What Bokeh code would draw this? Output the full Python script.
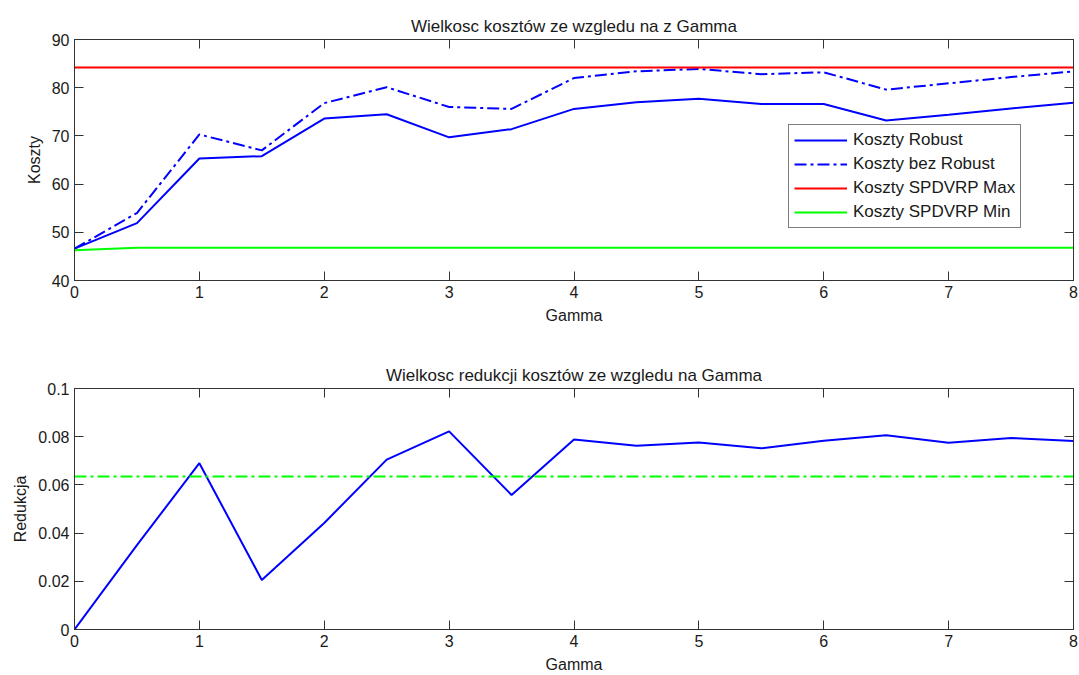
from bokeh.plotting import figure
from bokeh.layouts import column
from bokeh.models import (Range1d, FixedTicker, LinearAxis, Legend, LegendItem,
                          CustomJSTickFormatter)
from bokeh.embed import file_html
from bokeh.resources import INLINE

# ---------------- data ----------------
gamma = [0, 0.5, 1, 1.5, 2, 2.5, 3, 3.5, 4, 4.5, 5, 5.5, 6, 6.5, 7, 7.5, 8]
koszty_robust = [46.6, 51.9, 65.3, 65.8, 73.6, 74.5, 69.7, 71.4, 75.6, 77.0, 77.7,
                 76.6, 76.6, 73.2, 74.4, 75.7, 76.9]
koszty_bez_robust = [46.6, 54.0, 70.3, 67.0, 76.8, 80.1, 76.0, 75.6, 82.0, 83.4, 83.9,
                     82.8, 83.2, 79.6, 80.9, 82.2, 83.4]
koszty_max = [84.2] * len(gamma)
koszty_min = [46.3] + [46.8] * (len(gamma) - 1)
redukcja = [0.0, 0.035, 0.069, 0.0205, 0.0442, 0.0705, 0.0822, 0.0558, 0.0788, 0.0762,
            0.0776, 0.0752, 0.0783, 0.0806, 0.0775, 0.0795, 0.0782]
redukcja_mean = [0.0635] * len(gamma)

x_ticks = [0, 1, 2, 3, 4, 5, 6, 7, 8]
y1_ticks = [40, 50, 60, 70, 80, 90]
y2_ticks = [0, 0.02, 0.04, 0.06, 0.08, 0.1]

title1 = "Wielkosc kosztów ze wzgledu na z Gamma"
title2 = "Wielkosc redukcji kosztów ze wzgledu na Gamma"

FONT = "Liberation Sans"
AX = "#333333"
TXT = "#1a1a1a"
DASHDOT = "12 4 3 4"


def style_axis(ax, show_labels=True):
    ax.axis_line_color = AX
    ax.major_tick_line_color = AX
    ax.major_tick_in = 9
    ax.major_tick_out = 0
    ax.minor_tick_line_color = None
    ax.major_label_text_font = FONT
    ax.major_label_text_color = TXT
    ax.axis_label_text_font = FONT
    ax.axis_label_text_color = TXT
    ax.axis_label_text_font_style = "normal"
    ax.axis_label_text_font_size = "16px"
    if show_labels:
        ax.major_label_text_font_size = "16px"
        ax.major_label_standoff = 5
    else:
        ax.major_label_text_font_size = "1px"
        ax.major_label_text_color = None
        ax.major_label_standoff = 0


def make_fig(height, top, bottom, yr, yticks, title, ylabel, fmt=None):
    p = figure(width=1079, height=height, output_backend="svg", toolbar_location=None,
               x_range=Range1d(0, 8), y_range=yr,
               min_border_left=74, min_border_right=6,
               min_border_top=top, min_border_bottom=bottom)
    p.background_fill_color = "white"
    p.border_fill_color = "white"
    p.outline_line_color = AX
    p.xgrid.visible = False
    p.ygrid.visible = False
    p.title.text = title
    p.title.align = "center"
    p.title.text_font = FONT
    p.title.text_font_size = "17px"
    p.title.text_font_style = "normal"
    p.title.text_color = TXT
    p.title.standoff = 8

    p.xaxis.ticker = FixedTicker(ticks=x_ticks)
    p.yaxis.ticker = FixedTicker(ticks=yticks)
    if fmt is not None:
        p.yaxis.formatter = fmt
    p.xaxis.axis_label = "Gamma"
    p.yaxis.axis_label = ylabel
    p.xaxis.axis_label_standoff = 6
    p.yaxis.axis_label_standoff = 6
    for ax in p.xaxis + p.yaxis:
        style_axis(ax)

    top_ax = LinearAxis(ticker=FixedTicker(ticks=x_ticks))
    right_ax = LinearAxis(ticker=FixedTicker(ticks=yticks))
    style_axis(top_ax, show_labels=False)
    style_axis(right_ax, show_labels=False)
    p.add_layout(top_ax, "above")
    p.add_layout(right_ax, "right")
    return p


fmt = CustomJSTickFormatter(code="return (Math.round(tick*1000)/1000).toString();")

# ---------------- top plot ----------------
p1 = make_fig(337, 39, 57, Range1d(40, 90), y1_ticks, title1, "Koszty")
r1 = p1.line(gamma, koszty_robust, line_color="#0000ff", line_width=2)
r2 = p1.line(gamma, koszty_bez_robust, line_color="#0000ff", line_width=2,
             line_dash=DASHDOT)
r3 = p1.line(gamma, koszty_max, line_color="#ff0000", line_width=2)
r4 = p1.line(gamma, koszty_min, line_color="#00ff00", line_width=2)

legend = Legend(items=[
    LegendItem(label="Koszty Robust", renderers=[r1]),
    LegendItem(label="Koszty bez Robust", renderers=[r2]),
    LegendItem(label="Koszty SPDVRP Max", renderers=[r3]),
    LegendItem(label="Koszty SPDVRP Min", renderers=[r4]),
], location=(714, 52))
legend.border_line_color = "#000000"
legend.border_line_width = 1
legend.background_fill_color = "white"
legend.background_fill_alpha = 1
legend.label_text_font = FONT
legend.label_text_font_size = "17px"
legend.label_text_color = TXT
legend.glyph_width = 53
legend.glyph_height = 18
legend.label_height = 18
legend.spacing = 4
legend.padding = 5
legend.margin = 0
legend.label_standoff = 6
p1.add_layout(legend, "center")

# ---------------- bottom plot ----------------
p2 = make_fig(338, 51, 45, Range1d(0, 0.1), y2_ticks, title2, "Redukcja", fmt)
p2.line(gamma, redukcja, line_color="#0000ff", line_width=2)
p2.line(gamma, redukcja_mean, line_color="#00ff00", line_width=2, line_dash=DASHDOT)

layout = column(p1, p2, spacing=0)
open("out.html", "w").write(file_html(layout, INLINE))
